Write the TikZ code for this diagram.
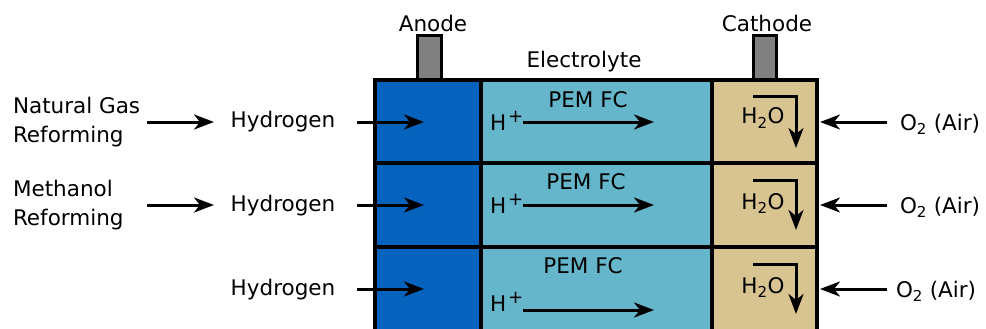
\documentclass[tikz,border=0pt]{standalone}
\usepackage{fontspec}
\setmainfont{DejaVu Sans}
\usetikzlibrary{arrows.meta}
\definecolor{anodeblue}{RGB}{5,99,189}
\definecolor{elecblue}{RGB}{101,181,203}
\definecolor{cathtan}{RGB}{215,196,144}
\definecolor{termgrey}{RGB}{128,128,128}
\newcommand{\hplus}{H\hspace{2pt}\raisebox{8pt}{\fontsize{18}{18}\selectfont +}}
\begin{document}
\begin{tikzpicture}[x=1pt,y=-1pt,
  lbl/.style={font=\fontsize{21.5}{29}\selectfont, inner sep=0pt, outer sep=0pt},
  cell/.style={draw=black, line width=3.5pt, inner sep=0pt, outer sep=0pt},
  terminal/.style={draw=black, line width=3pt, fill=termgrey, inner sep=0pt, minimum height=44pt},
  arr/.style={line width=3pt, -{Stealth[length=20pt,width=15pt,inset=6pt]}}
]
\useasboundingbox (0,0) rectangle (986,329);

% terminals
\node[terminal, minimum width=24pt] (tA) at (429,58) {};
\node[terminal, minimum width=23pt] (tC) at (764.5,58) {};

% cells
\foreach \r/\cy/\h in {1/121.5/83, 2/205/84, 3/293.5/93}{
  \node[cell, fill=anodeblue, minimum width=106pt, minimum height=\h pt] (a\r) at (428,\cy) {};
  \node[cell, fill=elecblue, minimum width=231pt, minimum height=\h pt] (e\r) at (596.5,\cy) {};
  \node[cell, fill=cathtan, minimum width=105pt, minimum height=\h pt] (c\r) at (764.5,\cy) {};
}

% header labels
\node[lbl, anchor=base] (anode) at (433,32) {Anode};
\node[lbl, anchor=base] (cathode) at (767,32) {Cathode};
\node[lbl, anchor=base] (electrolyte) at (584,68) {Electrolyte};

% left sources
\node[lbl, anchor=west, align=left] (ng) at (13,122) {Natural Gas\\Reforming};
\node[lbl, anchor=west, align=left] (me) at (13,205.5) {Methanol\\Reforming};

% hydrogen labels
\node[lbl, anchor=base] (h1) at (283,128) {Hydrogen};
\node[lbl, anchor=base] (h2) at (283,211) {Hydrogen};
\node[lbl, anchor=base] (h3) at (283,295) {Hydrogen};

% arrow coordinates
\coordinate (ngE) at (147,122); \coordinate (h1W) at (214,122);
\coordinate (meE) at (147,205); \coordinate (h2W) at (214,205);
\draw[arr] (ngE) -- (h1W);
\draw[arr] (meE) -- (h2W);

\foreach \r/\y in {1/122, 2/205, 3/289}{
  \coordinate (hin\r) at (357,\y);
  \coordinate (ain\r) at (424,\y);
  \draw[arr] (hin\r) -- (ain\r);
  \coordinate (oout\r) at (887,\y);
  \coordinate (cin\r) at (820,\y);
  \draw[arr] (oout\r) -- (cin\r);
}

% PEM FC labels
\node[lbl, anchor=base] (p1) at (588,107) {PEM FC};
\node[lbl, anchor=base] (p2) at (586,189) {PEM FC};
\node[lbl, anchor=base] (p3) at (583,273) {PEM FC};

% H+ labels and arrows
\node[lbl, anchor=base west] (hp1) at (490,130) {\hplus};
\node[lbl, anchor=base west] (hp2) at (490,213) {\hplus};
\node[lbl, anchor=base west] (hp3) at (490,311) {\hplus};
\foreach \r/\y in {1/122, 2/205, 3/310}{
  \coordinate (ps\r) at (523,\y);
  \coordinate (pe\r) at (654,\y);
  \draw[arr] (ps\r) -- (pe\r);
}

% H2O labels and elbow arrows
\node[lbl, anchor=base] (w1) at (763,124) {H\textsubscript{2}O};
\node[lbl, anchor=base] (w2) at (763,209) {H\textsubscript{2}O};
\node[lbl, anchor=base] (w3) at (763,293) {H\textsubscript{2}O};
\foreach \r/\t/\b in {1/97/148, 2/180/230, 3/264/314}{
  \coordinate (ws\r) at (753,\t);
  \coordinate (we\r) at (796,\b);
  \draw[arr] (ws\r) -| (we\r);
}

% O2 labels
\node[lbl, anchor=base west] (o1) at (900,130) {O\textsubscript{2} (Air)};
\node[lbl, anchor=base west] (o2) at (900,213) {O\textsubscript{2} (Air)};
\node[lbl, anchor=base west] (o3) at (896,297) {O\textsubscript{2} (Air)};
\end{tikzpicture}
\end{document}
